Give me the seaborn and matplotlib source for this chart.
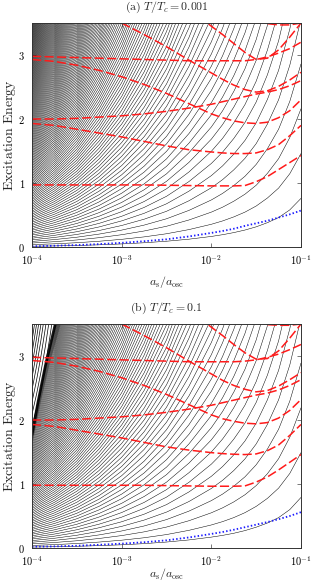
import numpy as np
import pandas as pd
import seaborn as sns
import matplotlib.pyplot as plt
from matplotlib.patches import Polygon

sns.set_theme(style="ticks")
plt.rcParams['font.family'] = ['DejaVu Serif']
plt.rcParams['mathtext.fontset'] = 'cm'

NaN = np.nan
# ---------------- data ----------------
log_a = [-4.0, -3.75, -3.5, -3.25, -3.0, -2.75, -2.5, -2.25, -2.0,
         -1.875, -1.75, -1.625, -1.5, -1.375, -1.25, -1.125, -1.0]

# black fan: lowest curve and spacing between neighbouring curves
black_lowest_a = [0.012, 0.017, 0.024, 0.034, 0.048, 0.066, 0.09, 0.122, 0.165,
                  0.192, 0.225, 0.265, 0.315, 0.38, 0.46, 0.58, 0.76]
black_step_a = [0.025, 0.033, 0.043, 0.056, 0.072, 0.092, 0.117, 0.15, 0.19,
                0.215, 0.245, 0.28, 0.325, 0.385, 0.46, 0.565, 0.70]
black_lowest_b = [0.015, 0.02, 0.027, 0.037, 0.05, 0.068, 0.093, 0.126, 0.17,
                  0.197, 0.23, 0.272, 0.325, 0.39, 0.475, 0.6, 0.79]
black_step_b = black_step_a
black_index = list(range(0, 140))

# panel (b): steep lines left of the dense band, the band and its outer edge
band_b_loga = [-4.0, -3.93, -3.85, -3.74]
band_b_E = [1.77, 2.3, 2.85, 3.5]
band_edge_loga = [-4.0, -3.9, -3.8, -3.68]
band_edge_E = [1.6, 2.3, 2.9, 3.5]
steep_b_loga = [-4.0, -3.95, -3.9, -3.85, -3.8, -3.75, -3.7]
steep_b_step = [0.19, 0.218, 0.25, 0.287, 0.33, 0.379, 0.435]
steep_b_index = list(range(7, 20))

# red dashed collective modes
red_a = {
    "m1": [0.97, 0.97, 0.97, 0.97, 0.97, 0.97, 0.965, 0.96, 0.955, 0.955, 0.955, 0.96, 1.02, 1.1, 1.21, 1.32, 1.43],
    "m2": [1.93, 1.90, 1.84, 1.78, 1.72, 1.65, 1.58, 1.52, 1.485, 1.47, 1.46, 1.46, 1.47, 1.52, 1.6, 1.74, 1.9],
    "m3": [2.0, 2.0, 2.01, 2.03, 2.05, 2.08, 2.12, 2.17, 2.23, 2.27, 2.31, 2.35, 2.39, 2.42, 2.46, 2.52, 2.6],
    "m4": [2.93, 2.9, 2.84, 2.76, 2.66, 2.54, 2.4, 2.24, 2.08, 2.02, 1.97, 1.94, 1.93, 1.95, 2.02, 2.13, 2.3],
    "m5": [2.98, 2.97, 2.96, 2.95, 2.94, 2.93, 2.92, 2.91, 2.91, 2.91, 2.91, 2.91, 2.93, 2.97, 3.03, 3.1, 3.2],
    "m6": [NaN, NaN, NaN, 3.68, 3.5, 3.32, 3.13, 2.92, 2.72, 2.62, 2.53, 2.46, 2.42, 2.44, 2.51, 2.61, 2.73],
    "m7": [NaN, NaN, NaN, NaN, NaN, NaN, NaN, 3.72, 3.45, 3.32, 3.18, 3.04, 2.93, 2.95, 3.08, 3.28, 3.5],
    "m8": [NaN, NaN, NaN, NaN, NaN, NaN, NaN, NaN, NaN, NaN, NaN, 3.65, 3.55, 3.49, 3.47, 3.47, 3.5],
}
red_b = {
    "m1": [0.98, 0.98, 0.98, 0.98, 0.98, 0.98, 0.975, 0.97, 0.965, 0.965, 0.965, 0.97, 1.03, 1.11, 1.22, 1.34, 1.46],
    "m2": [1.93, 1.90, 1.84, 1.78, 1.72, 1.65, 1.58, 1.53, 1.49, 1.475, 1.465, 1.46, 1.47, 1.52, 1.61, 1.76, 1.93],
    "m3": [2.0, 2.0, 2.01, 2.03, 2.05, 2.08, 2.12, 2.17, 2.23, 2.27, 2.31, 2.35, 2.39, 2.42, 2.47, 2.54, 2.63],
    "m4": [2.93, 2.9, 2.84, 2.76, 2.66, 2.54, 2.4, 2.24, 2.08, 2.02, 1.98, 1.95, 1.94, 1.96, 2.03, 2.15, 2.32],
    "m5": [2.98, 2.97, 2.96, 2.95, 2.94, 2.93, 2.92, 2.91, 2.91, 2.91, 2.91, 2.92, 2.94, 2.98, 3.03, 3.1, 3.18],
    "m6": [NaN, NaN, NaN, 3.68, 3.5, 3.32, 3.13, 2.92, 2.72, 2.62, 2.54, 2.48, 2.44, 2.46, 2.53, 2.63, 2.74],
    "m7": [NaN, NaN, NaN, NaN, NaN, NaN, NaN, 3.72, 3.45, 3.32, 3.18, 3.05, 2.95, 2.96, 3.08, 3.28, 3.5],
    "m8": [NaN, NaN, NaN, NaN, NaN, NaN, NaN, NaN, NaN, NaN, NaN, 3.65, 3.55, 3.49, 3.48, 3.48, 3.5],
}
blue_a = [0.01, 0.02, 0.03, 0.045, 0.065, 0.09, 0.12, 0.165, 0.22, 0.25, 0.285, 0.33, 0.37, 0.41, 0.46, 0.51, 0.57]
blue_b = [0.02, 0.025, 0.035, 0.05, 0.068, 0.09, 0.12, 0.165, 0.22, 0.25, 0.285, 0.325, 0.365, 0.405, 0.45, 0.5, 0.56]

titles = [r"$\mathrm{(a)}\ T/T_c = 0.001$", r"$\mathrm{(b)}\ T/T_c = 0.1$"]
xlabel = r"$a_{\mathrm{s}}/a_{\mathrm{osc}}$"
ylabel = r"$\mathrm{Excitation\ Energy}$"
xtick_vals = [1e-4, 1e-3, 1e-2, 1e-1]
xtick_labels = [r"$10^{-4}$", r"$10^{-3}$", r"$10^{-2}$", r"$10^{-1}$"]
ytick_vals = [0, 1, 2, 3]
ytick_labels = [r"$0$", r"$1$", r"$2$", r"$3$"]

# ---------------- figure ----------------
W, H = 313, 582
fig = plt.figure(figsize=(W / 100, H / 100), dpi=100)
ax_a = fig.add_axes([32 / W, 1 - 247 / H, 269 / W, 224 / H])
ax_b = fig.add_axes([32 / W, 1 - 548 / H, 269 / W, 224 / H])

a_vals = 10 ** np.array(log_a)


def family_frame(grid, lowest, step, index):
    rows = []
    xs = 10 ** np.array(grid)
    for n in index:
        e = np.array(lowest) + n * np.array(step)
        rows += [(n, x, y) for x, y in zip(xs, e)]
    return pd.DataFrame(rows, columns=["n", "a", "E"])


def new_lines(ax, fn):
    k = len(ax.lines)
    fn()
    return ax.lines[k:]


def draw(ax, lowest, step, reds, blue, title, xlabel_y, band=False):
    df = family_frame(log_a, lowest, step, black_index)
    fam = new_lines(ax, lambda: sns.lineplot(data=df, x="a", y="E", units="n", estimator=None,
                                             color="black", lw=0.35, ax=ax, sort=False))
    if band:
        bx = 10 ** np.array(band_b_loga)
        ex = 10 ** np.array(band_edge_loga)
        left_poly = Polygon(list(zip(bx, band_b_E)) + [(1e-4, 3.5)], closed=True,
                            transform=ax.transData, fc="none", ec="none")
        right_poly = Polygon([(1e-4, 0)] + list(zip(bx, band_b_E)) + [(0.1, 3.5), (0.1, 0)],
                             closed=True, transform=ax.transData, fc="none", ec="none")
        for ln in fam:
            ln.set_clip_path(right_poly)
        steep = pd.DataFrame([(m, 10 ** g, m * s) for m in steep_b_index
                              for g, s in zip(steep_b_loga, steep_b_step)], columns=["m", "a", "E"])
        st = new_lines(ax, lambda: sns.lineplot(data=steep, x="a", y="E", units="m", estimator=None,
                                                color="black", lw=0.5, ax=ax, sort=False))
        for ln in st:
            ln.set_clip_path(left_poly)
        shade = Polygon(list(zip(bx, band_b_E)) + list(zip(ex, band_edge_E))[::-1], closed=True,
                        transform=ax.transData, fc="#333333", ec="none", alpha=0.55, zorder=2)
        ax.add_patch(shade)
        sns.lineplot(x=bx, y=band_b_E, ax=ax, color="black", lw=2.0, alpha=0.9,
                     estimator=None, sort=False)
    for k, v in reds.items():
        sns.lineplot(x=a_vals, y=v, ax=ax, color="#ff1a1a", lw=1.1,
                     linestyle=(0, (6, 2.2)), estimator=None, sort=False)
    sns.lineplot(x=a_vals, y=blue, ax=ax, color="#1a1aff", lw=1.3,
                 linestyle=(0, (0.8, 1.2)), estimator=None, sort=False)
    ax.set_xscale("log")
    ax.set_xlim(1e-4, 1e-1)
    ax.set_ylim(0, 3.5)
    ax.set_xticks(xtick_vals)
    ax.set_xticklabels(xtick_labels, fontsize=7.5)
    ax.set_yticks(ytick_vals)
    ax.set_yticklabels(ytick_labels, fontsize=7.5)
    ax.minorticks_off()
    ax.tick_params(direction="in", top=True, right=True, length=3, width=0.5,
                   colors="#444444", labelcolor="black")
    ax.tick_params(axis="x", pad=4.5)
    ax.tick_params(axis="y", pad=5)
    for s in ax.spines.values():
        s.set_linewidth(0.7)
        s.set_color("#333333")
    ax.set_xlabel(xlabel, fontsize=8.5)
    ax.xaxis.set_label_coords(0.5, xlabel_y)
    ax.xaxis.label.set_va("center")
    ax.set_ylabel(ylabel, fontsize=10)
    ax.yaxis.set_label_coords(-22 / 269, 0.5)
    ax.yaxis.label.set_va("center")
    ax.text(0.5, 1 + 16 / 224, title, transform=ax.transAxes, ha="center", va="center",
            fontsize=8.5)


draw(ax_a, black_lowest_a, black_step_a, red_a, blue_a, titles[0], -35 / 224)
draw(ax_b, black_lowest_b, black_step_b, red_b, blue_b, titles[1], -26 / 224, band=True)

fig.savefig("out.png", dpi=100)
